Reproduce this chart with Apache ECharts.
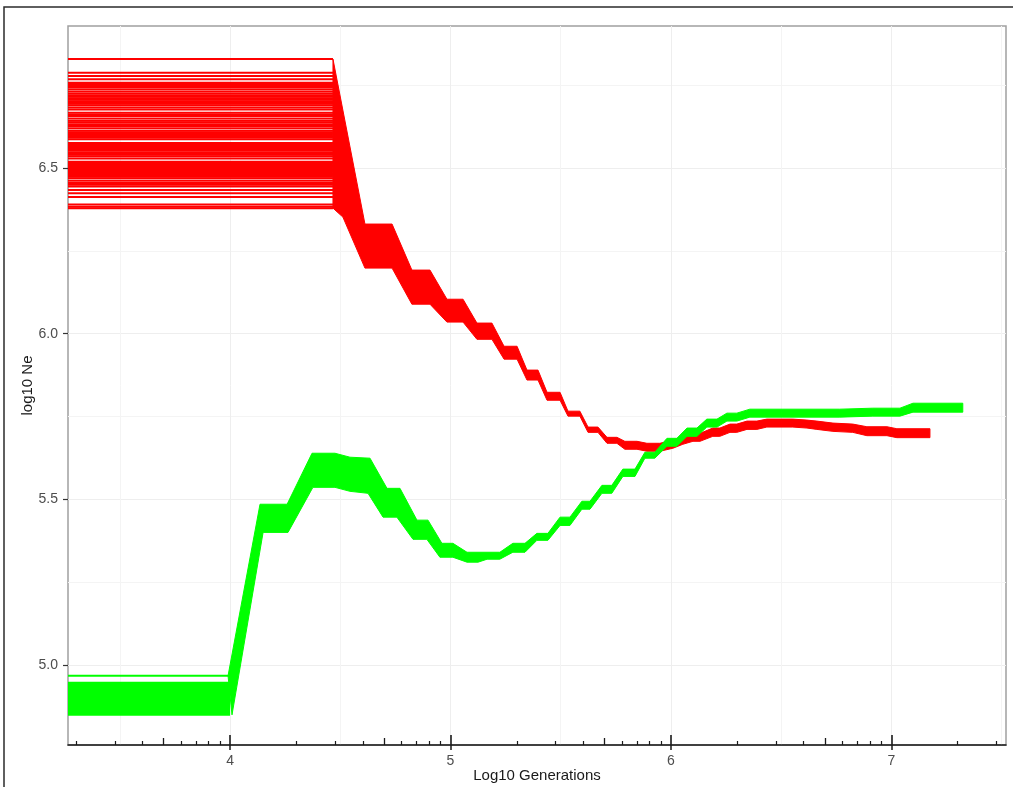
<!DOCTYPE html>
<html><head><meta charset="utf-8">
<script src="https://cdn.jsdelivr.net/npm/echarts@6/dist/echarts.min.js"></script>
<style>html,body{margin:0;padding:0;background:#fff;}#c{width:1013px;height:787px;}</style>
</head><body><div id="c"></div>
<script>
// ---------- data ----------
const X_MIN = 3.265, X_MAX = 7.52, Y_MIN = 4.758, Y_MAX = 6.929;
const X_TICKS = [4, 5, 6, 7];
const X_MINOR_GRID = [3.5, 4.5, 5.5, 6.5, 7.5];
const Y_TICKS = [5.0, 5.5, 6.0, 6.5];
const Y_MINOR_GRID = [5.25, 5.75, 6.25, 6.75];
const X_NAME = 'Log10 Generations';
const Y_NAME = 'log10 Ne';

const RED_FLAT_END = 4.467;
const GREEN_FLAT_END = 4.0;

const RED_START_LEVELS = [6.829, 6.788, 6.778, 6.768, 6.758, 6.754, 6.749, 6.745, 6.738, 6.731, 6.725, 6.720,
  6.715, 6.711, 6.706, 6.702, 6.698, 6.694, 6.690, 6.683, 6.677, 6.667, 6.662, 6.657, 6.650, 6.643, 6.638,
  6.632, 6.627, 6.620, 6.613, 6.608, 6.603, 6.597, 6.592, 6.587, 6.576, 6.572, 6.567, 6.563, 6.559, 6.556,
  6.552, 6.547, 6.544, 6.540, 6.536, 6.529, 6.519, 6.515, 6.511, 6.506, 6.503, 6.498, 6.495, 6.491, 6.487,
  6.482, 6.479, 6.474, 6.469, 6.462, 6.455, 6.450, 6.444, 6.434, 6.424, 6.413, 6.390, 6.383, 6.379];

const GREEN_START_LEVELS = [4.967, 4.946, 4.943, 4.939, 4.936, 4.933, 4.930, 4.928, 4.924, 4.921, 4.918,
  4.916, 4.912, 4.909, 4.907, 4.903, 4.900, 4.898, 4.894, 4.891, 4.889, 4.885, 4.882, 4.880, 4.876, 4.873,
  4.870, 4.867, 4.864, 4.861, 4.858, 4.855, 4.852, 4.849];

const RED_UPPER = [[4.467, 6.829], [4.612, 6.331], [4.735, 6.331], [4.825, 6.192], [4.907, 6.192],
  [4.984, 6.104], [5.057, 6.104], [5.120, 6.032], [5.188, 6.032], [5.243, 5.962], [5.302, 5.962],
  [5.347, 5.890], [5.397, 5.890], [5.438, 5.823], [5.497, 5.823], [5.533, 5.766], [5.587, 5.766],
  [5.624, 5.718], [5.669, 5.718], [5.710, 5.687], [5.755, 5.687], [5.791, 5.675], [5.846, 5.675],
  [5.891, 5.669], [5.950, 5.669], [6.009, 5.678], [6.054, 5.690], [6.100, 5.699], [6.132, 5.699],
  [6.190, 5.715], [6.222, 5.715], [6.268, 5.727], [6.299, 5.727], [6.345, 5.736], [6.390, 5.736],
  [6.435, 5.742], [6.553, 5.742], [6.617, 5.739], [6.662, 5.736], [6.735, 5.730], [6.825, 5.727],
  [6.889, 5.719], [6.980, 5.719], [7.025, 5.713], [7.175, 5.713]];

const RED_LOWER = [[4.467, 6.379], [4.512, 6.352], [4.612, 6.198], [4.735, 6.198], [4.825, 6.089],
  [4.907, 6.089], [4.984, 6.035], [5.057, 6.035], [5.120, 5.983], [5.188, 5.983], [5.243, 5.923],
  [5.302, 5.923], [5.347, 5.860], [5.397, 5.860], [5.438, 5.799], [5.497, 5.799], [5.533, 5.751],
  [5.587, 5.751], [5.624, 5.702], [5.669, 5.702], [5.710, 5.669], [5.755, 5.669], [5.791, 5.651],
  [5.846, 5.651], [5.891, 5.645], [5.950, 5.645], [6.009, 5.654], [6.054, 5.666], [6.100, 5.675],
  [6.132, 5.675], [6.190, 5.690], [6.222, 5.690], [6.268, 5.702], [6.299, 5.702], [6.345, 5.711],
  [6.390, 5.711], [6.435, 5.718], [6.553, 5.718], [6.617, 5.715], [6.662, 5.711], [6.735, 5.705],
  [6.825, 5.702], [6.889, 5.692], [6.980, 5.692], [7.025, 5.686], [7.175, 5.686]];

const GREEN_UPPER = [[3.991, 4.967], [4.136, 5.485], [4.259, 5.485], [4.372, 5.639], [4.476, 5.639],
  [4.544, 5.627], [4.635, 5.624], [4.712, 5.533], [4.771, 5.533], [4.848, 5.437], [4.898, 5.437],
  [4.961, 5.367], [5.011, 5.367], [5.075, 5.340], [5.224, 5.340], [5.283, 5.367], [5.338, 5.367],
  [5.392, 5.397], [5.442, 5.397], [5.497, 5.446], [5.542, 5.446], [5.596, 5.494], [5.633, 5.494],
  [5.687, 5.542], [5.732, 5.542], [5.782, 5.591], [5.837, 5.591], [5.882, 5.642], [5.927, 5.642],
  [5.982, 5.684], [6.027, 5.684], [6.073, 5.715], [6.118, 5.715], [6.163, 5.742], [6.209, 5.742],
  [6.254, 5.760], [6.299, 5.760], [6.358, 5.772], [6.508, 5.772], [6.766, 5.772], [6.916, 5.775],
  [7.039, 5.775], [7.098, 5.790], [7.324, 5.790]];

const GREEN_LOWER = [[4.009, 4.849], [4.150, 5.400], [4.263, 5.400], [4.376, 5.536], [4.476, 5.536],
  [4.544, 5.524], [4.626, 5.518], [4.694, 5.446], [4.757, 5.446], [4.830, 5.379], [4.893, 5.379],
  [4.952, 5.325], [5.011, 5.325], [5.075, 5.310], [5.125, 5.310], [5.166, 5.319], [5.224, 5.319],
  [5.283, 5.340], [5.338, 5.340], [5.392, 5.376], [5.442, 5.376], [5.497, 5.421], [5.542, 5.421],
  [5.596, 5.470], [5.633, 5.470], [5.687, 5.518], [5.732, 5.518], [5.782, 5.569], [5.837, 5.569],
  [5.882, 5.624], [5.927, 5.624], [5.982, 5.660], [6.027, 5.660], [6.073, 5.690], [6.118, 5.690],
  [6.163, 5.718], [6.209, 5.718], [6.254, 5.736], [6.299, 5.736], [6.358, 5.748], [6.508, 5.748],
  [6.766, 5.748], [6.916, 5.751], [7.039, 5.751], [7.098, 5.763], [7.324, 5.763]];

const RED = '#ff0000', GREEN = '#00ff00';

// ---------- log tick positions (axis decoration) ----------
const LOG_SHORT = [], LOG_MID = [];
for (let d = 3; d <= 7; d++) {
  [2, 3, 4, 6, 7, 8, 9].forEach(k => { const v = d + Math.log10(k); if (v > X_MIN && v < X_MAX) LOG_SHORT.push(v); });
  const m = d + Math.log10(5); if (m > X_MIN && m < X_MAX) LOG_MID.push(m);
}

const FONT = 'Liberation Sans, Arial, sans-serif';
const G = { left: 68, right: 7, top: 26, bottom: 42, containLabel: false, outerBoundsMode: 'none' };

function bandSeries(upper, lower, color) {
  const pts = upper.concat(lower.slice().reverse());
  return {
    type: 'custom', xAxisIndex: 0, yAxisIndex: 0, silent: true, z: 3, clip: true,
    color: color, itemStyle: { color: color },
    data: pts, encode: { x: 0, y: 1 },
    renderItem: function (params, api) {
      if (params.dataIndex !== 0) return null;
      return {
        type: 'polygon',
        shape: { points: pts.map(p => api.coord(p)) },
        style: { fill: color, stroke: color, lineWidth: 1 }
      };
    }
  };
}
function flatLines(levels, endX, color, w) {
  return {
    type: 'custom', xAxisIndex: 0, yAxisIndex: 0, silent: true, z: 3, clip: true,
    color: color, itemStyle: { color: color },
    data: levels.map(v => [X_MIN, v, endX]), encode: { x: 0, y: 1 },
    renderItem: function (params, api) {
      const a = api.coord([api.value(0), api.value(1)]);
      const b = api.coord([api.value(2), api.value(1)]);
      return {
        type: 'line',
        shape: { x1: a[0], y1: a[1], x2: b[0], y2: b[1] },
        style: { stroke: color, lineWidth: w, fill: color }
      };
    }
  };
}

function xAx(gi, o) {
  return Object.assign({
    type: 'value', gridIndex: gi, min: X_MIN, max: X_MAX, position: 'bottom',
    axisLine: { show: false }, axisLabel: { show: false }, splitLine: { show: false },
    axisTick: { show: false }
  }, o);
}
function yAx(gi, o) {
  return Object.assign({
    type: 'value', gridIndex: gi, min: Y_MIN, max: Y_MAX,
    axisLine: { show: false }, axisLabel: { show: false }, splitLine: { show: false },
    axisTick: { show: false }
  }, o);
}

const chart = echarts.init(document.getElementById('c'), null, { renderer: 'canvas' });
chart.setOption({
  animation: false,
  backgroundColor: '#ffffff',
  color: [RED, RED, GREEN, GREEN],
  grid: [
    Object.assign({ show: true, borderColor: '#a0a0a0', borderWidth: 1.5, backgroundColor: 'transparent' }, G),
    Object.assign({}, G), Object.assign({}, G), Object.assign({}, G), Object.assign({}, G)
  ],
  xAxis: [
    xAx(0, {
      axisLine: { show: true, onZero: false, lineStyle: { color: '#1a1a1a', width: 1.5 } },
      axisTick: { show: true, inside: false, length: 5, customValues: X_TICKS, lineStyle: { color: '#1a1a1a', width: 1.5 } },
      axisLabel: { show: true, customValues: X_TICKS, margin: 9, color: '#4d4d4d', fontSize: 14, fontFamily: FONT, formatter: v => String(v) },
      splitLine: { show: true, lineStyle: { color: '#eeeeee', width: 1 } },
      name: X_NAME, nameLocation: 'middle', nameGap: 23, nameMoveOverlap: false,
      nameTextStyle: { color: '#1a1a1a', fontSize: 15, fontFamily: FONT }
    }),
    xAx(1, { axisTick: { show: false, customValues: X_MINOR_GRID }, splitLine: { show: true, lineStyle: { color: '#f4f4f4', width: 1 } } }),
    xAx(2, { axisTick: { show: true, inside: true, length: 4, customValues: LOG_SHORT, lineStyle: { color: '#1a1a1a', width: 1.2 } } }),
    xAx(3, { axisTick: { show: true, inside: true, length: 7, customValues: LOG_MID, lineStyle: { color: '#1a1a1a', width: 1.3 } } }),
    xAx(4, { axisTick: { show: true, inside: true, length: 10, customValues: X_TICKS, lineStyle: { color: '#1a1a1a', width: 1.6 } } })
  ],
  yAxis: [
    yAx(0, {
      axisTick: { show: true, inside: false, length: 5, customValues: Y_TICKS, lineStyle: { color: '#333', width: 1.2 } },
      axisLabel: { show: true, customValues: Y_TICKS, margin: 10, color: '#4d4d4d', fontSize: 14, fontFamily: FONT, formatter: v => v.toFixed(1) },
      splitLine: { show: true, lineStyle: { color: '#eeeeee', width: 1 } },
      name: Y_NAME, nameLocation: 'middle', nameGap: 33, nameRotate: 90, nameMoveOverlap: false,
      nameTextStyle: { color: '#1a1a1a', fontSize: 15, fontFamily: FONT }
    }),
    yAx(1, { axisTick: { show: false, customValues: Y_MINOR_GRID }, splitLine: { show: true, lineStyle: { color: '#f4f4f4', width: 1 } } }),
    yAx(2, { show: false }), yAx(3, { show: false }), yAx(4, { show: false })
  ],
  graphic: [{
    type: 'rect', silent: true, z: 100,
    shape: { x: 4, y: 7, width: 1100, height: 900 },
    style: { fill: 'none', stroke: '#2b2b2b', lineWidth: 1.5 }
  }],
  series: [
    flatLines(RED_START_LEVELS, RED_FLAT_END, RED, 2),
    bandSeries(RED_UPPER, RED_LOWER, RED),
    flatLines(GREEN_START_LEVELS, GREEN_FLAT_END, GREEN, 2),
    bandSeries(GREEN_UPPER, GREEN_LOWER, GREEN)
  ]
});
</script></body></html>
